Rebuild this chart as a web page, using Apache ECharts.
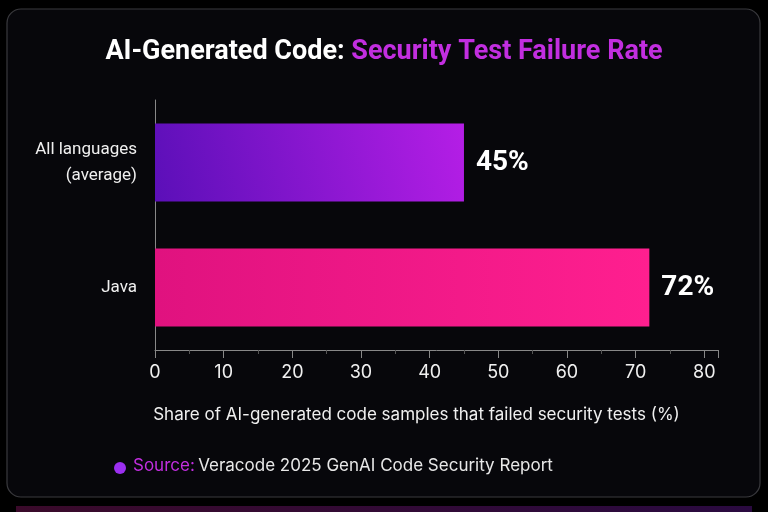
<!DOCTYPE html>
<html>
<head>
<meta charset="utf-8">
<script src="https://cdn.jsdelivr.net/npm/echarts@6/dist/echarts.min.js"></script>
<style>html,body{margin:0;background:#000;}#chart{width:768px;height:512px;}</style>
</head>
<body>
<div id="chart"></div>
<script>
var categories = ['Java', 'All languages\n(average)'];
var values = [72, 45];
var labels = ['72%', '45%'];

var colors = [
    new echarts.graphic.LinearGradient(0, 0, 1, 0, [{offset: 0, color: '#e0127f'}, {offset: 1, color: '#ff1f8f'}]),
    new echarts.graphic.LinearGradient(0, 1, 1, 0, [{offset: 0, color: '#5b0fb8'}, {offset: 1, color: '#b51ee6'}])
];

var chart = echarts.init(document.getElementById('chart'));
chart.setOption({
    backgroundColor: '#000',
    title: {
        text: '{w|AI-Generated Code: }{p|Security Test Failure Rate}',
        left: 'center',
        top: 34,
        textStyle: {
            rich: {
                w: {color: '#fff', fontSize: 27, fontWeight: 'bold', fontFamily: 'Roboto'},
                p: {color: '#c22ee0', fontSize: 27, fontWeight: 'bold', fontFamily: 'Roboto'}
            }
        }
    },
    graphic: [
        {type: 'rect', shape: {x: 7, y: 9, width: 753, height: 488, r: 14}, style: {fill: '#07070b', stroke: '#3a3a3e', lineWidth: 1.2}, z: -10},
        {type: 'rect', shape: {x: 16, y: 506, width: 736, height: 6}, style: {fill: new echarts.graphic.LinearGradient(0, 0, 1, 0, [{offset: 0, color: '#3a0a2a'}, {offset: 1, color: '#2a0a40'}])}, z: -10},
        {type: 'circle', shape: {cx: 120, cy: 468, r: 6}, style: {fill: '#9b2ff0'}},
        {type: 'text', left: 133, top: 457, style: {
            text: '{p|Source:} {w|Veracode 2025 GenAI Code Security Report}',
            rich: {
                p: {fill: '#c22ee0', fontSize: 17, fontFamily: 'Inter'},
                w: {fill: '#e8e8e8', fontSize: 17, fontFamily: 'Inter'}
            }
        }}
    ],
    grid: {left: 155, right: 50, top: 100, bottom: 162},
    xAxis: {
        type: 'value',
        min: 0, max: 82, interval: 10,
        name: 'Share of AI-generated code samples that failed security tests (%)',
        nameLocation: 'middle',
        nameGap: 56,
        nameTextStyle: {color: '#f0f0f0', fontSize: 17, fontFamily: 'Inter', padding: [0, 40, 0, 0]},
        axisLine: {show: true, lineStyle: {color: '#888'}},
        axisTick: {show: true, length: 8, lineStyle: {color: '#888'}},
        minorTick: {show: true, splitNumber: 2, length: 4, lineStyle: {color: '#555'}},
        splitLine: {show: false},
        axisLabel: {color: '#f0f0f0', fontSize: 18, fontFamily: 'Inter', margin: 14,
            formatter: function (v) { return v > 80 ? '' : v; }}
    },
    yAxis: {
        type: 'category',
        data: categories,
        axisLine: {show: true, lineStyle: {color: '#888'}},
        axisTick: {show: false},
        axisLabel: {color: '#f0f0f0', fontSize: 17, fontFamily: 'Roboto', margin: 18, align: 'right', lineHeight: 26}
    },
    series: [{
        type: 'bar',
        data: values.map(function (v, i) {
            return {value: v, itemStyle: {color: colors[i]}};
        }),
        barWidth: 78,
        label: {
            show: true,
            position: 'right',
            distance: 12,
            formatter: function (p) { return labels[p.dataIndex]; },
            color: '#fff',
            fontSize: 28,
            fontWeight: 'bold',
            fontFamily: 'Roboto'
        }
    }]
});
</script>
</body>
</html>
